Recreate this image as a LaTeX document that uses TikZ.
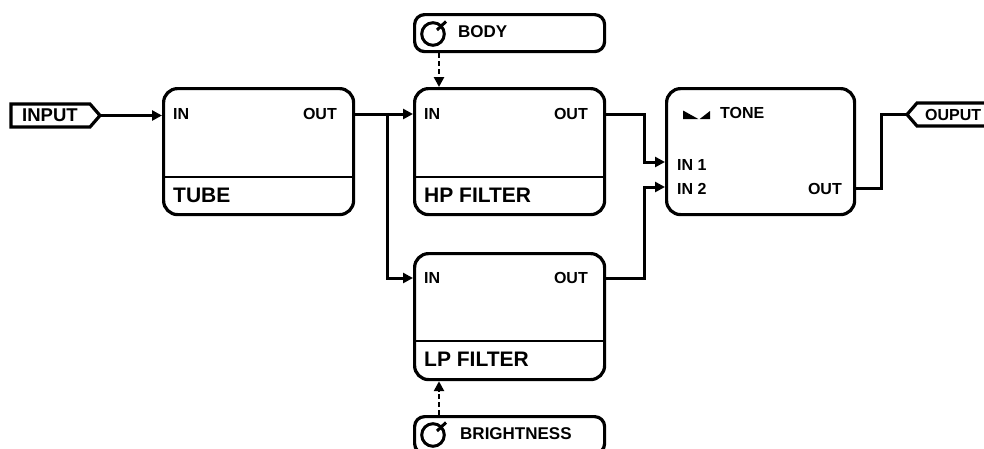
\documentclass[tikz,border=0pt]{standalone}
\usepackage{fontspec}
\setmainfont{Liberation Sans}
\usetikzlibrary{arrows.meta,calc}
\begin{document}
\begin{tikzpicture}[x=1pt,y=-1pt,
  blk/.style={draw, line width=3.2pt, rounded corners=14pt, minimum width=190pt, minimum height=126pt, anchor=north west, inner sep=0pt},
  knobbox/.style={draw, line width=3.2pt, rounded corners=10pt, minimum width=190pt, minimum height=37pt, anchor=north west, inner sep=0pt},
  port/.style={font=\fontsize{16}{19}\selectfont\bfseries, inner sep=0pt},
  title/.style={font=\fontsize{21}{25}\selectfont\bfseries, inner sep=0pt, anchor=west},
  knoblabel/.style={font=\fontsize{17}{20}\selectfont\bfseries, inner sep=0pt, anchor=west},
  tag/.style={line width=3.2pt, line join=miter},
  wire/.style={line width=3pt},
  arr/.style={wire, -{Triangle[length=10pt,width=10pt]}},
  ctrl/.style={line width=2.8pt, dash pattern=on 5pt off 3pt, -{Triangle[length=10pt,width=10pt]}},
  divider/.style={line width=1.6pt},
  knob/.style={line width=3pt},
]
\useasboundingbox (0,0) rectangle (984,448);

% blocks
\node[blk] (tube) at (162,87) {};
\node[blk] (hp) at (413,87) {};
\node[blk] (lp) at (413,252) {};
\node[blk, minimum width=188pt] (tone) at (665,87) {};
\node[knobbox] (body) at (413,13) {};
\node[knobbox] (bright) at (413,415) {};

% dividers
\draw[divider] ($(tube.north west)+(0,90)$) -- ($(tube.north east)+(0,90)$);
\draw[divider] ($(hp.north west)+(0,90)$) -- ($(hp.north east)+(0,90)$);
\draw[divider] ($(lp.north west)+(0,89)$) -- ($(lp.north east)+(0,89)$);

% labels
\node[port, anchor=west] (tubein) at (173,114) {IN};
\node[port, anchor=east] (tubeout) at (337,114) {OUT};
\node[title] (tubet) at (173,195) {TUBE};
\node[port, anchor=west] (hpin) at (424,114) {IN};
\node[port, anchor=east] (hpout) at (588,114) {OUT};
\node[title] (hpt) at (424,195) {HP FILTER};
\node[port, anchor=west] (lpin) at (424,278) {IN};
\node[port, anchor=east] (lpout) at (588,278) {OUT};
\node[title] (lpt) at (424,359) {LP FILTER};
\node[port, anchor=west] (tonet) at (720,113) {TONE};
\node[port, anchor=west] (tonein1) at (677,165) {IN 1};
\node[port, anchor=west] (tonein2) at (677,189) {IN 2};
\node[port, anchor=east] (toneout) at (842,189) {OUT};
\fill (683,110.5) -- (683,119) -- (698.3,119) -- cycle;
\fill (710,111) -- (710,119) -- (699.7,119) -- cycle;

% knobs
\draw[knob] (433,34) circle[radius=11.3pt];
\draw[knob] (437,30) -- (446,21.5);
\node[knoblabel] (bodyt) at (458,32) {BODY};
\draw[knob] (433,435) circle[radius=11.3pt];
\draw[knob] (437,431) -- (446,422.5);
\node[knoblabel] (brightt) at (460,434) {BRIGHTNESS};

% tags
\draw[tag] (11,104) -- (90,104) -- (100,115.5) -- (90,127) -- (11,127) -- cycle;
\node[font=\fontsize{18.5}{22}\selectfont\bfseries, inner sep=0pt, anchor=west] (input) at (22,115.5) {INPUT};
\coordinate (inputtip) at (100,115.5);
\draw[tag] (1000,103) -- (917,103) -- (907,114.5) -- (917,126) -- (1000,126);
\node[font=\fontsize{16}{19}\selectfont\bfseries, inner sep=0pt, anchor=west] (output) at (925,115) {OUPUT};
\coordinate (outputtip) at (907,114.5);

% port coordinates on tone
\coordinate (tin1) at ($(tone.north west)+(0,75)$);
\coordinate (tin2) at ($(tone.north west)+(0,100)$);
\coordinate (tout) at ($(tone.north east)+(0,101)$);
\coordinate (split) at (387,114);

% wires
\draw[arr] (inputtip) -- (inputtip -| tube.west);
\draw[arr] (tube.east |- tubeout) -- (hp.west |- tubeout);
\draw[arr] (split) |- (lp.west |- lpin);
\draw[arr] (hp.east |- hpout) -- ++(38,0) |- (tin1);
\draw[arr] (lp.east |- lpout) -- ++(38,0) |- (tin2);
\draw[wire] (tout) -- ++(25,0) |- (outputtip);

% control lines
\draw[ctrl] ($(body.south west)+(26,0)$) -- ($(hp.north west)+(26,0)$);
\draw[ctrl] ($(bright.north west)+(26,0)$) -- ($(lp.south west)+(26,0)$);
\end{tikzpicture}
\end{document}
